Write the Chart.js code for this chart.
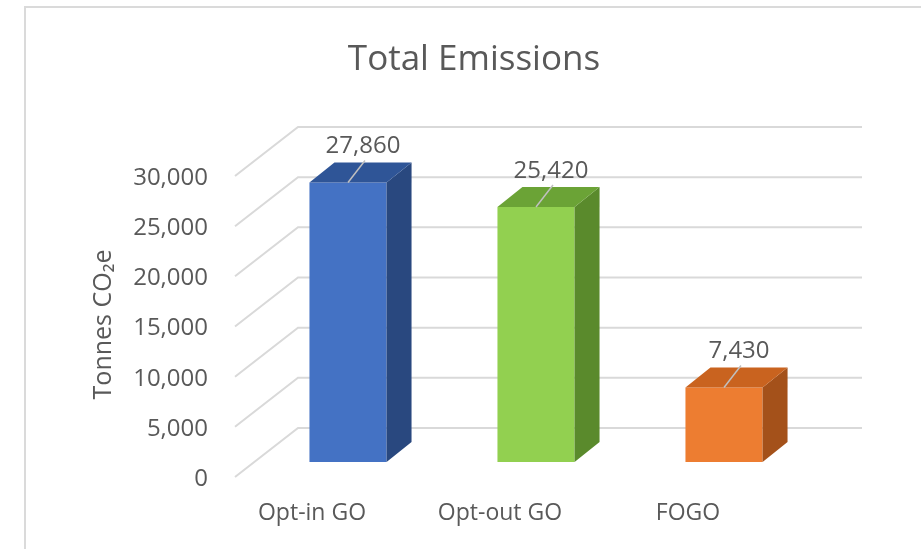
<!DOCTYPE html>
<html>
<head>
<meta charset="utf-8">
<script src="https://cdn.jsdelivr.net/npm/chart.js@4.4.1/dist/chart.umd.min.js"></script>
<style>
  html, body { margin: 0; padding: 0; background: #fff; }
  #wrap { position: relative; width: 921px; height: 549px; overflow: hidden; }
  #frame { position: absolute; left: 24px; top: 6px; width: 900px; height: 600px; border: 2px solid #dadada; box-sizing: border-box; }
  canvas { position: absolute; left: 0; top: 0; }
</style>
</head>
<body>
<div id="wrap">
  <div id="frame"></div>
  <canvas id="chart" width="921" height="549"></canvas>
</div>
<script>
const CATEGORIES = ["Opt-in GO", "Opt-out GO", "FOGO"];
const EMISSIONS = [27860, 25420, 7430];
const FRONT_COLORS = ["#4472C4", "#92D050", "#ED7D31"];
const TOP_COLORS = ["#2F5597", "#6BA336", "#C9631F"];
const SIDE_COLORS = ["#29487F", "#5A8A2C", "#A4511A"];
const Y_TICKS = [0, 5000, 10000, 15000, 20000, 25000, 30000];

const FONT = "'Open Sans', 'Noto Sans', sans-serif";
const TEXT = "#595959";
const GRID = "#d9d9d9";
const DEPTH = { dx: 25, dy: -20 };       // bar depth
const BACK = { dx: 44, dy: -34 };        // bar plane -> back wall
const FRONT = { dx: -19, dy: 15 };       // bar plane -> front edge

const fmt = v => v.toLocaleString("en-US");

const wallsPlugin = {
  id: "walls",
  beforeDatasetsDraw(chart) {
    const { ctx, chartArea, scales: { y } } = chart;
    ctx.save();
    ctx.strokeStyle = GRID;
    ctx.lineWidth = 2;
    for (const v of Y_TICKS) {
      const py = y.getPixelForValue(v);
      ctx.beginPath();
      ctx.moveTo(chartArea.left + FRONT.dx, py + FRONT.dy);
      ctx.lineTo(chartArea.left + BACK.dx, py + BACK.dy);
      ctx.lineTo(chartArea.right + BACK.dx, py + BACK.dy);
      ctx.stroke();
    }
    ctx.restore();
  },
};

const barsPlugin = {
  id: "bars3d",
  afterDatasetsDraw(chart) {
    const { ctx } = chart;
    const meta = chart.getDatasetMeta(0);
    ctx.save();
    meta.data.forEach((bar, i) => {
      const { x, y, base, width } = bar.getProps(["x", "y", "base", "width"], true);
      const l = x - width / 2, r = x + width / 2;
      // side face
      ctx.fillStyle = SIDE_COLORS[i];
      ctx.beginPath();
      ctx.moveTo(r, y);
      ctx.lineTo(r + DEPTH.dx, y + DEPTH.dy);
      ctx.lineTo(r + DEPTH.dx, base + DEPTH.dy);
      ctx.lineTo(r, base);
      ctx.closePath();
      ctx.fill();
      // top face
      ctx.fillStyle = TOP_COLORS[i];
      ctx.beginPath();
      ctx.moveTo(l, y);
      ctx.lineTo(l + DEPTH.dx, y + DEPTH.dy);
      ctx.lineTo(r + DEPTH.dx, y + DEPTH.dy);
      ctx.lineTo(r, y);
      ctx.closePath();
      ctx.fill();
      // leader + value label
      ctx.strokeStyle = "#c0c0c0";
      ctx.lineWidth = 1.5;
      ctx.beginPath();
      ctx.moveTo(x, y);
      ctx.lineTo(x + 17, y - 22);
      ctx.stroke();
      ctx.fillStyle = TEXT;
      ctx.font = `24px ${FONT}`;
      ctx.textAlign = "center";
      ctx.textBaseline = "middle";
      ctx.fillText(fmt(EMISSIONS[i]), x + 15, y - 36);
    });
    ctx.restore();
  },
};

new Chart(document.getElementById("chart"), {
  type: "bar",
  data: {
    labels: CATEGORIES,
    datasets: [{
      data: EMISSIONS,
      backgroundColor: FRONT_COLORS,
      borderWidth: 0,
      barPercentage: 1,
      categoryPercentage: 0.41,
    }],
  },
  options: {
    responsive: false,
    animation: false,
    events: [],
    layout: { padding: { left: 27, right: 0, top: 13, bottom: 0 } },
    plugins: {
      legend: { display: false },
      tooltip: { enabled: false },
      title: {
        display: true,
        text: "Total Emissions",
        color: TEXT,
        font: { family: FONT, size: 35, weight: "normal" },
        padding: { top: 26, bottom: 80 },
      },
    },
    scales: {
      x: {
        grid: { display: false, drawTicks: false },
        border: { display: false },
        ticks: { color: TEXT, font: { family: FONT, size: 23 }, padding: 38, labelOffset: -36 },
        afterFit: s => { s.height = 87; },
      },
      y: {
        min: 0,
        max: 30000,
        grid: { display: false, drawTicks: false },
        border: { display: false },
        ticks: { stepSize: 5000, color: TEXT, font: { family: FONT, size: 24 }, padding: 46, labelOffset: 17 },
        title: {
          display: true,
          text: "Tonnes CO\u2082e    ",
          color: TEXT,
          font: { family: FONT, size: 25 },
          padding: { top: 62, bottom: 0 },
        },
        afterFit: s => { s.width = 227; },
      },
      yRight: {
        position: "right",
        display: true,
        grid: { display: false, drawTicks: false },
        border: { display: false },
        ticks: { display: false },
        afterFit: s => { s.width = 103; },
      },
    },
  },
  plugins: [wallsPlugin, barsPlugin],
});
</script>
</body>
</html>
